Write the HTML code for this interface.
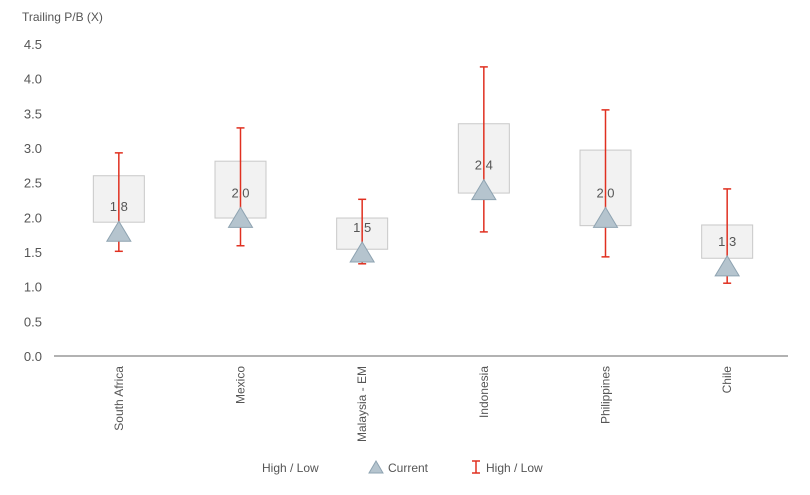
<!DOCTYPE html>
<html><head><meta charset="utf-8"><style>
body{margin:0;background:#fff;font-family:"Liberation Sans",sans-serif;}
svg text{font-family:"Liberation Sans",sans-serif;fill:#555;}
</style></head><body>
<svg width="810" height="490">
<text x="22" y="21" font-size="12">Trailing P/B (X)</text>
<g id="yt"></g><g id="marks"></g><g id="xl"></g>
<line x1="54" y1="356" x2="788" y2="356" stroke="#666" stroke-width="1"/>
<g>
<text x="262" y="472" font-size="12">High / Low</text>
<polygon points="376,461 369,473 383,473" fill="#b5c4ce" stroke="#8ea3b1"/>
<text x="388" y="472" font-size="12">Current</text>
<g stroke="#e03020" stroke-width="1.5"><line x1="476" y1="461" x2="476" y2="473"/><line x1="472" y1="461" x2="480" y2="461"/><line x1="472" y1="473" x2="480" y2="473"/></g>
<text x="486" y="472" font-size="12">High / Low</text>
</g>
</svg>
<script>
const categories=["South Africa","Mexico","Malaysia - EM","Indonesia","Philippines","Chile"];
const highs=[2.93,3.29,2.26,4.17,3.55,2.41];
const lows=[1.51,1.59,1.33,1.79,1.43,1.05];
const boxTops=[2.6,2.81,1.99,3.35,2.97,1.89];
const boxBottoms=[1.93,1.99,1.54,2.35,1.88,1.41];
const currents=[1.8,2.0,1.5,2.4,2.0,1.3];
const yTicks=[0,0.5,1,1.5,2,2.5,3,3.5,4,4.5];
const NS="http://www.w3.org/2000/svg";
const y=v=>356-v*69.33;
const x=i=>58+730/categories.length*(i+0.5);
function mk(t,a,p){const e=document.createElementNS(NS,t);for(const k in a)e.setAttribute(k,a[k]);p.appendChild(e);return e;}
const yt=document.getElementById('yt'),mg=document.getElementById('marks'),xl=document.getElementById('xl');
yTicks.forEach(v=>{const t=mk('text',{x:42,y:y(v)+5,'font-size':13,'text-anchor':'end'},yt);t.textContent=v.toFixed(1);

});
categories.forEach((c,i)=>{
const cx=x(i);
const g=mk('g',{},mg);


const b=mk('rect',{x:cx-25.5,y:y(boxTops[i]),width:51,height:y(boxBottoms[i])-y(boxTops[i]),fill:'#f2f2f2',stroke:'#c8c8c8'},g);


const lb=mk('text',{x:cx,y:y(currents[i])-20,'font-size':13,'text-anchor':'middle'},g);lb.textContent=currents[i].toFixed(1);


const eb=mk('g',{stroke:'#e03020','stroke-width':1.5},g);


mk('line',{x1:cx,x2:cx,y1:y(highs[i]),y2:y(lows[i])},eb);
mk('line',{x1:cx-4,x2:cx+4,y1:y(highs[i]),y2:y(highs[i])},eb);
mk('line',{x1:cx-4,x2:cx+4,y1:y(lows[i]),y2:y(lows[i])},eb);
const cy=y(currents[i]);
const tr=mk('polygon',{points:`${cx},${cy-10} ${cx-12},${cy+10} ${cx+12},${cy+10}`,fill:'#b5c4ce',stroke:'#8ea3b1'},g);


const xt=mk('text',{x:0,y:0,'font-size':12,'text-anchor':'end',transform:`translate(${cx+4},366) rotate(-90)`},xl);xt.textContent=c;


});
</script>
</body></html>
